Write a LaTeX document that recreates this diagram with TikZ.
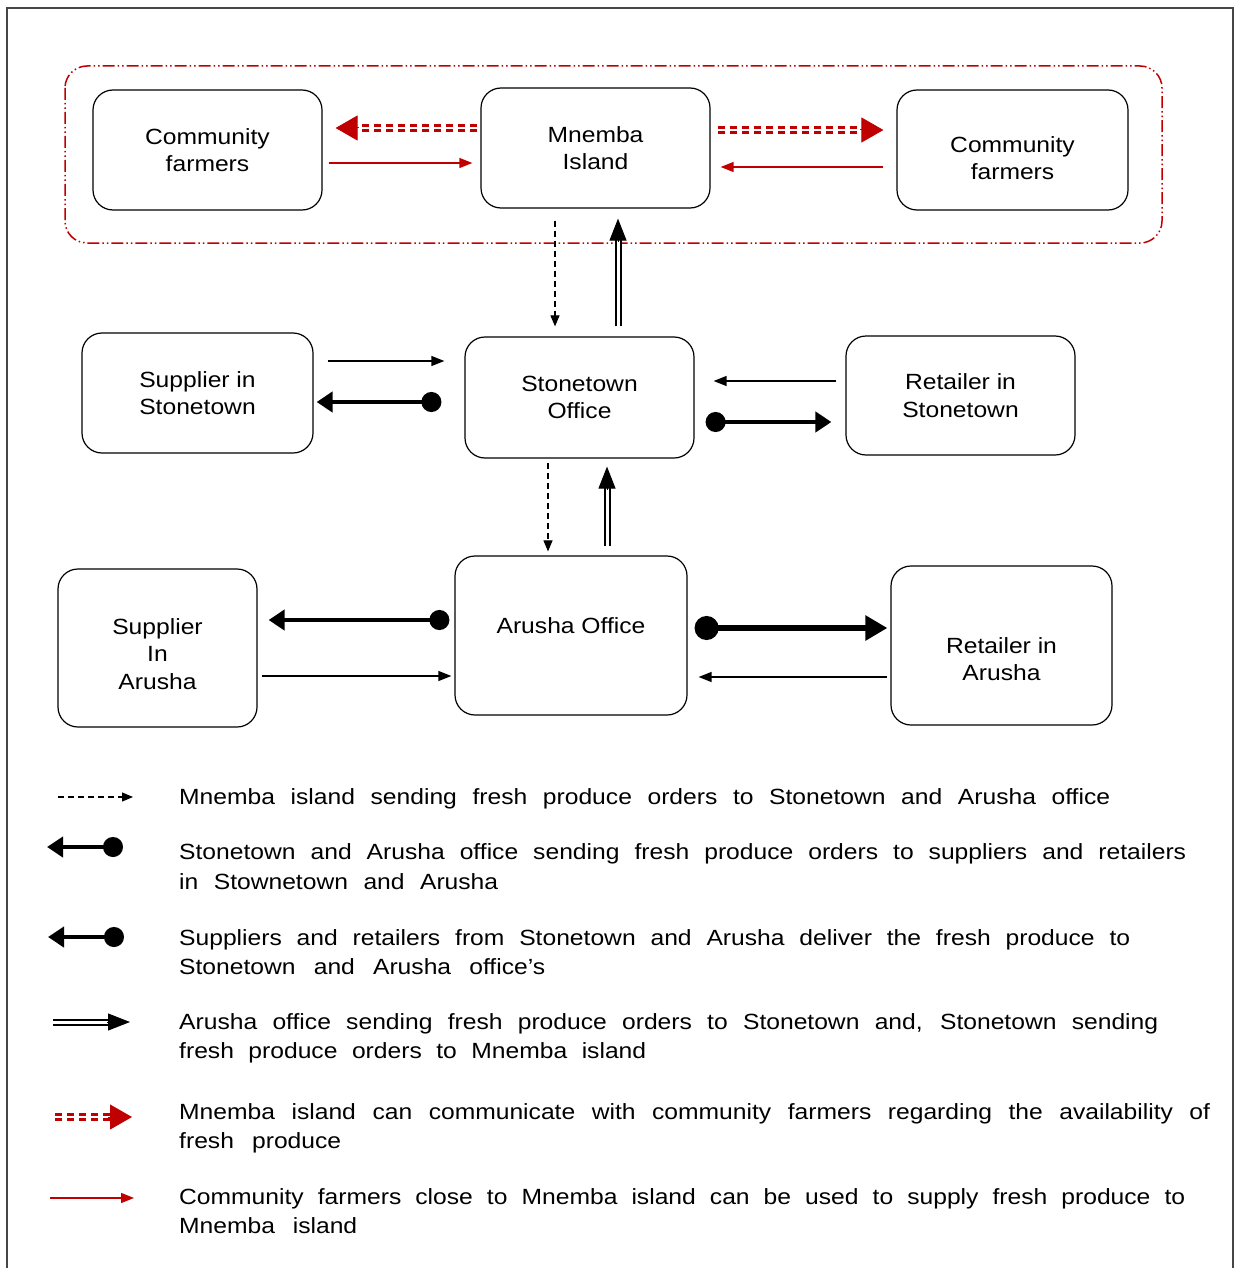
\documentclass[tikz,border=0pt]{standalone}
\usepackage{fontspec}
\setmainfont{Liberation Sans}[FakeStretch=1.12]
\usetikzlibrary{arrows.meta,calc}
\definecolor{cred}{RGB}{192,0,0}
\definecolor{frame}{RGB}{70,70,70}
\tikzset{
  box/.style={draw, line width=1.2pt, rounded corners=20pt, align=center, inner sep=0pt,
    font=\fontsize{22}{27.5}\selectfont},
  lbl/.style={align=center, font=\fontsize{22}{27.5}\selectfont},
  thinarr/.style={line width=1.3pt, -{Triangle[length=13pt,width=10pt]}},
  redthin/.style={thinarr, draw=cred, fill=cred},
  dasharr/.style={line width=1.1pt, dash pattern=on 6pt off 4pt, -{Triangle[length=11pt,width=9pt]}},
  thickarr/.style={line width=4.5pt, {Circle[length=20pt]}-{Triangle[length=16pt,width=20pt]}},
  bigarr/.style={line width=6.5pt, {Circle[length=24pt]}-{Triangle[length=22pt,width=24pt]}},
  dblshaft/.style={draw=black, line width=2pt, double=white, double distance=3pt},
  dblhead/.style={line width=1pt, -{Triangle[length=22pt,width=17pt]}},
  redshaft/.style={draw=cred, line width=3pt, double=white, double distance=2pt, dash pattern=on 7pt off 5pt},
  redhead/.style={draw=cred, fill=cred, line width=1pt, -{Triangle[length=22pt,width=25pt]}},
  legtext/.style={anchor=base west, inner sep=0pt, font=\fontsize{22}{27}\selectfont}
}
\begin{document}
\begin{tikzpicture}[x=1pt,y=-1pt]
\useasboundingbox (0,0) rectangle (1234,1268);
\fill[white] (0,0) rectangle (1234,1268);
% outer frame
\draw[frame, line width=1.6pt] (7,1268) -- (7,8) -- (1233,8) -- (1233,1268);
% red dash-dot-dot group outline
\draw[cred, line width=1.5pt, rounded corners=22pt,
  dash pattern=on 12pt off 3pt on 1.5pt off 3pt on 1.5pt off 3pt]
  (65,66) rectangle (1162,243);

% boxes
\node[box, minimum width=229pt, minimum height=120pt] (cfl) at (207.5,150) {Community\\farmers};
\node[box, minimum width=229pt, minimum height=120pt] (mn) at (595.5,148) {Mnemba\\Island};
\node[box, minimum width=231pt, minimum height=120pt,
  label={[lbl, yshift=-8pt]center:{Community\\farmers}}] (cfr) at (1012.5,150) {};
\node[box, minimum width=231pt, minimum height=120pt] (sst) at (197.5,393) {Supplier in\\Stonetown};
\node[box, minimum width=229pt, minimum height=121pt] (so) at (579.5,397.5) {Stonetown\\Office};
\node[box, minimum width=229pt, minimum height=119pt] (rst) at (960.5,395.5) {Retailer in\\Stonetown};
\node[box, minimum width=199pt, minimum height=158pt,
  label={[lbl, yshift=-6pt]center:{Supplier\\In\\Arusha}}] (sa) at (157.5,648) {};
\node[box, minimum width=232pt, minimum height=159pt,
  label={[lbl, yshift=9.5pt]center:{Arusha Office}}] (ao) at (571,635.5) {};
\node[box, minimum width=221pt, minimum height=159pt,
  label={[lbl, yshift=-13.5pt]center:{Retailer in\\Arusha}}] (ra) at (1001.5,645.5) {};

% --- top row: red connectors
\draw[redshaft] ($(mn.west)+(-3,-20)$) -- ($(cfl.east)+(32,-22)$);
\draw[redhead] ($(cfl.east)+(36,-22)$) -- ($(cfl.east)+(13,-22)$);
\draw[redshaft] ($(mn.east)+(7,-18)$) -- ($(cfr.west)+(-32,-20)$);
\draw[redhead] ($(cfr.west)+(-36,-20)$) -- ($(cfr.west)+(-13,-20)$);
\draw[redthin] ($(cfl.east)+(6,13)$) -- ($(mn.west)+(-8,15)$);
\draw[redthin] ($(cfr.west)+(-13,17)$) -- ($(mn.east)+(10,19)$);

% --- Mnemba <-> Stonetown
\draw[dasharr] ($(mn.south)+(-40.5,12)$) -- ($(so.north)+(-24.5,-10)$);
\draw[dblshaft] ($(so.north)+(38.5,-10)$) -- ($(mn.south)+(22.5,28)$);
\draw[dblhead] ($(mn.south)+(22.5,33)$) -- ($(mn.south)+(22.5,10)$);

% --- Stonetown row
\draw[thinarr] ($(sst.east)+(14,-32)$) -- ($(so.west)+(-20,-36.5)$);
\draw[thickarr] ($(so.west)+(-23,4.5)$) -- ($(sst.east)+(3,9)$);
\draw[thinarr] ($(rst.west)+(-9,-14.5)$) -- ($(so.east)+(19,-16.5)$);
\draw[thickarr] ($(so.east)+(11,24.5)$) -- ($(rst.west)+(-14,26.5)$);

% --- Stonetown <-> Arusha
\draw[dasharr] ($(so.south)+(-31.5,4)$) -- ($(ao.north)+(-23,-4)$);
\draw[dblshaft] ($(ao.north)+(36,-9)$) -- ($(so.south)+(27.5,26)$);
\draw[dblhead] ($(so.south)+(27.5,31)$) -- ($(so.south)+(27.5,8)$);

% --- Arusha row
\draw[thickarr] ($(ao.west)+(-5,-15.5)$) -- ($(sa.east)+(11,-28)$);
\draw[thinarr] ($(sa.east)+(4,28)$) -- ($(ao.west)+(-3,40.5)$);
\draw[bigarr] ($(ao.east)+(7,-7.5)$) -- ($(ra.west)+(-3,-17.5)$);
\draw[thinarr] ($(ra.west)+(-3,31.5)$) -- ($(ao.east)+(11,41.5)$);

% --- legend symbols
\coordinate (l1a) at (58,797);   \coordinate (l1b) at (133,797);
\coordinate (l2a) at (123,847);  \coordinate (l2b) at (47,847);
\coordinate (l3a) at (124,937);  \coordinate (l3b) at (48,937);
\coordinate (l4a) at (53,1022);  \coordinate (l4b) at (130,1022);
\coordinate (l5a) at (55,1117);  \coordinate (l5b) at (132,1117);
\coordinate (l6a) at (50,1198);  \coordinate (l6b) at (134,1198);
\draw[dasharr] (l1a) -- (l1b);
\draw[thickarr] (l2a) -- (l2b);
\draw[thickarr] (l3a) -- (l3b);
\draw[dblshaft] (l4a) -- ($(l4b)+(-18,0)$);
\draw[dblhead] ($(l4b)+(-23,0)$) -- (l4b);
\draw[redshaft] (l5a) -- ($(l5b)+(-20,0)$);
\draw[redhead] ($(l5b)+(-24,0)$) -- (l5b);
\draw[redthin] (l6a) -- (l6b);

% --- legend texts
\node[legtext] (t1) at (179,804) {\makebox[931pt][s]{Mnemba island sending fresh produce orders to Stonetown and Arusha office}};
\node[legtext] (t2a) at (179,859) {\makebox[1007pt][s]{Stonetown and Arusha office sending fresh produce orders to suppliers and retailers}};
\node[legtext] (t2b) at (179,889) {\makebox[319pt][s]{in Stownetown and Arusha}};
\node[legtext] (t3a) at (179,945) {\makebox[951pt][s]{Suppliers and retailers from Stonetown and Arusha deliver the fresh produce to}};
\node[legtext] (t3b) at (179,974) {\makebox[366pt][s]{Stonetown and Arusha office's}};
\node[legtext] (t4a) at (179,1029) {\makebox[979pt][s]{Arusha office sending fresh produce orders to Stonetown and, Stonetown sending}};
\node[legtext] (t4b) at (179,1058) {\makebox[467pt][s]{fresh produce orders to Mnemba island}};
\node[legtext] (t5a) at (179,1119) {\makebox[1031pt][s]{Mnemba island can communicate with community farmers regarding the availability of}};
\node[legtext] (t5b) at (179,1148) {\makebox[162pt][s]{fresh produce}};
\node[legtext] (t6a) at (179,1204) {\makebox[1006pt][s]{Community farmers close to Mnemba island can be used to supply fresh produce to}};
\node[legtext] (t6b) at (179,1233) {\makebox[178pt][s]{Mnemba island}};
\end{tikzpicture}
\end{document}
